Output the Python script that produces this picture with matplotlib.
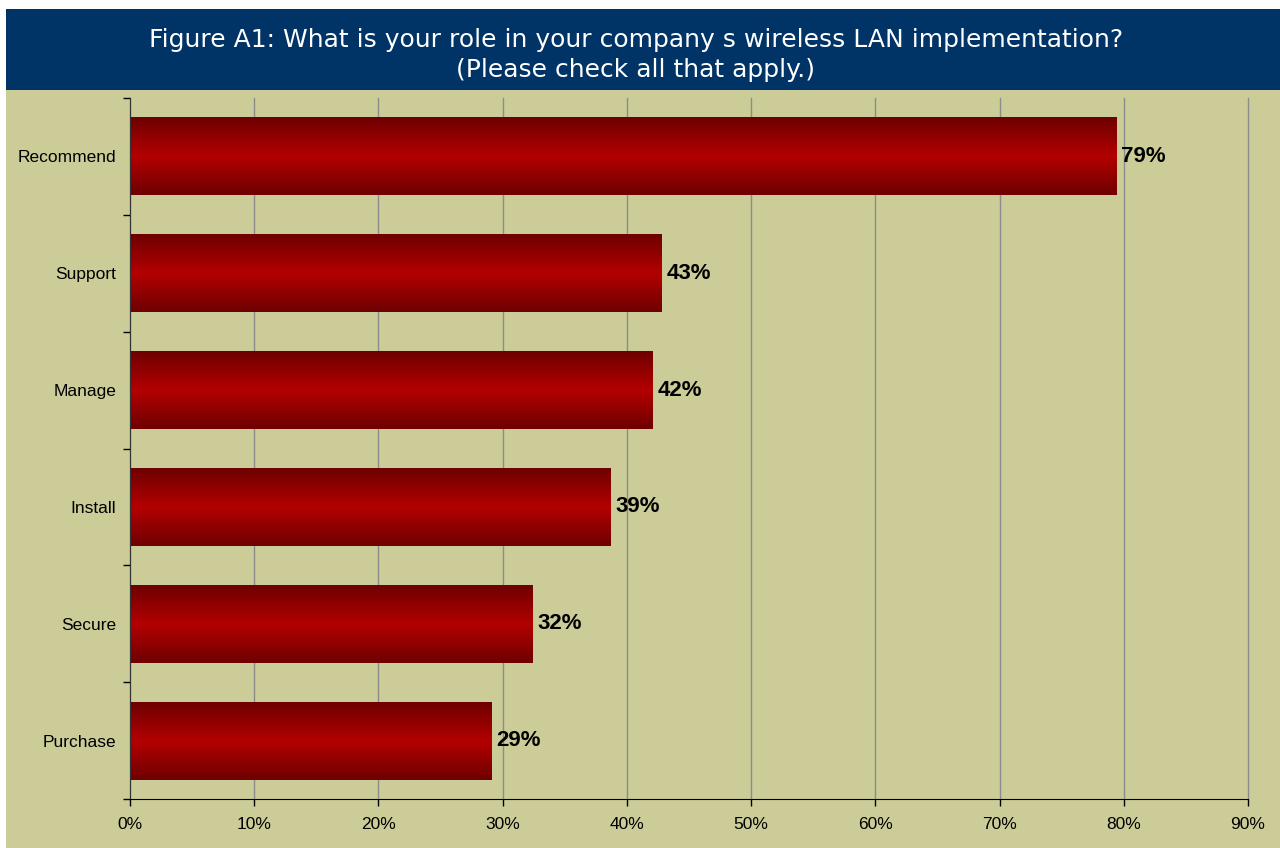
import numpy as np
import matplotlib
matplotlib.use('Agg')
import matplotlib.pyplot as plt
from matplotlib.colors import LinearSegmentedColormap
from matplotlib.patches import Rectangle
from matplotlib.ticker import MultipleLocator, FuncFormatter, FixedLocator

plt.rcParams['font.family'] = ['Liberation Sans', 'DejaVu Sans']

roles = ['Recommend', 'Support', 'Manage', 'Install', 'Secure', 'Purchase']
share = [79.4, 42.8, 42.1, 38.7, 32.4, 29.1]

title = "Figure A1: What is your role in your company s wireless LAN implementation?\n(Please check all that apply.)"

khaki = '#cccc99'
navy = '#003366'

fig = plt.figure(figsize=(12.8, 8.48), dpi=100)
fig.patch.set_facecolor('white')

W, H = 1280.0, 848.0
# khaki panel and blue banner
fig.patches.append(Rectangle((6 / W, 0), 1 - 6 / W, 1 - 90 / H,
                             transform=fig.transFigure, facecolor=khaki,
                             edgecolor='none', zorder=-2))
fig.patches.append(Rectangle((6 / W, 1 - 90 / H), 1 - 6 / W, 81 / H,
                             transform=fig.transFigure, facecolor=navy,
                             edgecolor='none', zorder=-2))
fig.text(636 / W, 1 - 55 / H, title, ha='center', va='center',
         color='white', fontsize=18, linespacing=1.35,
         family=['DejaVu Sans'])

ax = fig.add_axes([130 / W, 1 - 799 / H, (1248 - 130) / W, (799 - 98) / H])
ax.set_facecolor(khaki)

n = len(roles)
ypos = np.arange(n)[::-1]
bh = 0.667

# red bar with a horizontal-band shading (dark edges, bright middle)
cmap = LinearSegmentedColormap.from_list('redbar', ['#6e0000', '#b30000', '#6e0000'])
grad = np.linspace(0, 1, 256).reshape(-1, 1)

for y, v in zip(ypos, share):
    ax.imshow(grad, cmap=cmap, aspect='auto', interpolation='bicubic',
              extent=(0, v, y - bh / 2, y + bh / 2), zorder=2)
    ax.text(v + 0.4, y, '%d%%' % round(v), va='center', ha='left',
            fontsize=16, fontweight='bold', color='black', zorder=3)

ax.set_xlim(0, 90)
ax.set_ylim(-0.5, n - 0.5)
ax.xaxis.set_major_locator(MultipleLocator(10))
ax.xaxis.set_major_formatter(FuncFormatter(lambda x, p: '%d%%' % x))
ax.grid(axis='x', color='#8c8c8c', linewidth=1.0, zorder=0)
ax.set_axisbelow(True)
for gl in ax.get_xgridlines():
    gl.set_clip_on(False)

ax.set_yticks(ypos)
ax.set_yticklabels(roles)
ax.yaxis.set_minor_locator(FixedLocator(np.arange(-0.5, n, 1.0)))
ax.tick_params(axis='y', which='major', length=0, pad=10, labelsize=12.5)
ax.tick_params(axis='y', which='minor', length=5, width=1, direction='out')
ax.tick_params(axis='x', length=5, width=1, direction='out', pad=8, labelsize=12.5)

for s in ['top', 'right']:
    ax.spines[s].set_visible(False)
ax.spines['left'].set_color('#333333')
ax.spines['bottom'].set_color('black')

fig.savefig('out.png', dpi=100, facecolor=fig.get_facecolor())
